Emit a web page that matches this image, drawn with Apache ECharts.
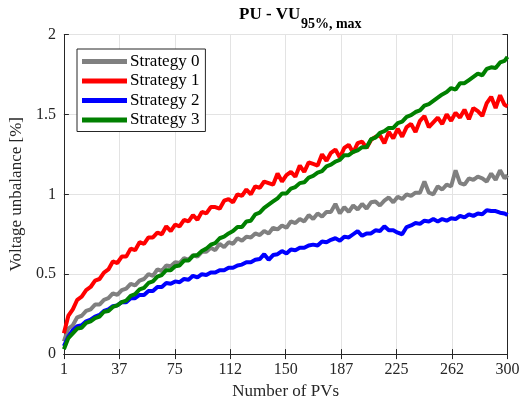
<!DOCTYPE html>
<html>
<head>
<meta charset="utf-8">
<script src="https://cdn.jsdelivr.net/npm/echarts@6/dist/echarts.min.js"></script>
<style>html,body{margin:0;padding:0;background:#fff;}#c{width:527px;height:405px;}</style>
</head>
<body>
<div id="c"></div>
<script>
// Number of PVs (x values)
const pvs = [1,4,7,10,13,16,19,22,25,28,31,34,37,40,43,46,49,52,55,58,61,64,67,70,73,76,79,82,85,88,91,94,97,100,103,106,109,112,115,118,121,124,127,130,133,136,139,142,145,148,151,154,157,160,163,166,169,172,175,178,181,184,187,190,193,196,199,202,205,208,211,214,217,220,223,226,229,232,235,238,241,244,247,250,253,256,259,262,265,268,271,274,277,280,283,286,289,292,295,298,300];

const strategy0 = [0.08,0.16,0.18,0.23,0.24,0.27,0.28,0.31,0.31,0.34,
  0.35,0.38,0.37,0.40,0.41,0.44,0.43,0.46,0.47,0.50,
  0.49,0.53,0.52,0.555,0.55,0.575,0.57,0.60,0.59,0.62,
  0.61,0.64,0.64,0.665,0.65,0.69,0.67,0.70,0.69,0.725,
  0.71,0.735,0.73,0.755,0.745,0.77,0.755,0.79,0.78,0.805,
  0.79,0.83,0.82,0.845,0.83,0.87,0.845,0.88,0.86,0.89,
  0.89,0.94,0.88,0.92,0.89,0.93,0.905,0.94,0.91,0.95,
  0.955,0.93,0.96,0.98,0.95,0.985,0.97,1.00,0.99,1.01,
  1.01,1.08,1.01,1.00,1.05,1.03,1.06,1.05,1.15,1.07,
  1.06,1.10,1.09,1.11,1.10,1.08,1.13,1.09,1.15,1.10,
  1.12];

const strategy1 = [0.13,0.24,0.28,0.34,0.36,0.40,0.42,0.46,0.47,0.51,
  0.53,0.58,0.57,0.61,0.61,0.66,0.65,0.70,0.69,0.73,
  0.73,0.76,0.75,0.80,0.77,0.81,0.80,0.84,0.83,0.87,
  0.84,0.89,0.88,0.92,0.92,0.91,0.96,0.97,0.95,1.00,
  0.99,1.03,1.00,1.05,1.04,1.08,1.07,1.06,1.13,1.08,
  1.12,1.14,1.11,1.18,1.14,1.20,1.19,1.18,1.25,1.21,
  1.26,1.28,1.23,1.29,1.31,1.26,1.32,1.33,1.29,1.34,
  1.36,1.37,1.32,1.39,1.35,1.41,1.36,1.42,1.44,1.39,
  1.46,1.49,1.42,1.45,1.48,1.44,1.50,1.46,1.51,1.48,
  1.53,1.47,1.54,1.52,1.49,1.57,1.61,1.54,1.62,1.56,
  1.55];

const strategy2 = [0.05,0.11,0.15,0.175,0.18,0.205,0.215,0.235,0.245,0.27,
  0.28,0.30,0.305,0.325,0.325,0.35,0.35,0.37,0.37,0.395,
  0.395,0.42,0.42,0.445,0.44,0.455,0.45,0.47,0.465,0.49,
  0.48,0.50,0.495,0.51,0.51,0.525,0.525,0.54,0.54,0.555,
  0.56,0.575,0.575,0.59,0.595,0.625,0.59,0.62,0.625,0.645,
  0.63,0.655,0.65,0.665,0.665,0.68,0.685,0.68,0.705,0.70,
  0.715,0.725,0.71,0.735,0.73,0.75,0.77,0.74,0.755,0.755,
  0.775,0.77,0.80,0.775,0.775,0.76,0.75,0.795,0.805,0.82,
  0.815,0.835,0.83,0.845,0.83,0.845,0.835,0.85,0.845,0.865,
  0.855,0.875,0.865,0.88,0.875,0.90,0.895,0.895,0.885,0.88,
  0.87];

const strategy3 = [0.03,0.10,0.13,0.16,0.165,0.195,0.205,0.225,0.235,0.265,
  0.27,0.295,0.305,0.325,0.335,0.365,0.375,0.405,0.415,0.445,
  0.455,0.485,0.495,0.525,0.525,0.55,0.555,0.585,0.585,0.615,
  0.62,0.645,0.66,0.685,0.695,0.725,0.735,0.755,0.77,0.795,
  0.795,0.83,0.835,0.875,0.885,0.915,0.935,0.955,0.975,1.005,
  1.005,1.035,1.045,1.07,1.075,1.105,1.115,1.135,1.145,1.175,
  1.185,1.205,1.215,1.245,1.245,1.265,1.275,1.295,1.295,1.345,
  1.355,1.385,1.395,1.415,1.415,1.445,1.455,1.485,1.495,1.515,
  1.525,1.555,1.565,1.585,1.605,1.625,1.64,1.665,1.655,1.695,
  1.695,1.715,1.735,1.755,1.745,1.785,1.795,1.79,1.825,1.835,
  1.86];

const seriesNames = ['Strategy 0','Strategy 1','Strategy 2','Strategy 3'];
const seriesColors = ['#808080','#ff0000','#0000ff','#008000'];
const xTickLabels = ['1','37','75','112','150','187','225','262','300'];
const titleMain = 'PU - VU';
const titleSub = '95%, max';

const FONT = '"Liberation Serif", "Times New Roman", serif';
const allData = [strategy0, strategy1, strategy2, strategy3];
const axisColor = '#262626';
const gridColor = '#e3e3e3';

// measure main title width to place the subscript right after it
const mctx = document.createElement('canvas').getContext('2d');
mctx.font = 'bold 17px ' + FONT;
const mainW = mctx.measureText(titleMain).width;
const titleLeft = 239;

const chart = echarts.init(document.getElementById('c'), null, {renderer:'canvas'});
chart.setOption({
  animation: false,
  backgroundColor: '#fff',
  grid: {left: 62, right: 19.5, top: 34.5, bottom: 48.5, containLabel: false},
  graphic: [
    {type:'text', left: titleLeft, top: 6, style:{text: titleMain, font:'bold 17px ' + FONT, fill:'#000'}},
    {type:'text', left: titleLeft + mainW + 0.5, top: 17, style:{text: titleSub, font:'bold 14px ' + FONT, fill:'#000'}}
  ],
  legend: {
    orient: 'vertical', left: 77, top: 49,
    padding: [4, 6, 3, 5], itemGap: 2.5,
    itemWidth: 45, itemHeight: 5, icon: 'rect',
    borderColor: axisColor, borderWidth: 1, borderRadius: 0,
    backgroundColor: '#fff',
    textStyle: {fontFamily: FONT, fontSize: 17, color: '#000', lineHeight: 17, padding: [0,0,0,-2]},
    data: seriesNames
  },
  xAxis: [{
    type: 'value', min: 1, max: 300, interval: 37.375,
    name: 'Number of PVs', nameLocation: 'middle', nameGap: 26,
    nameTextStyle: {fontFamily: FONT, fontSize: 17, color: '#262626'},
    axisLine: {show: true, lineStyle: {color: axisColor, width: 1}},
    axisTick: {show: true, inside: true, length: 5, lineStyle: {color: axisColor}},
    axisLabel: {fontFamily: FONT, fontSize: 16, color: '#262626', margin: 8,
      formatter: v => xTickLabels[Math.round((v - 1) / 37.375)]},
    splitLine: {show: true, lineStyle: {color: gridColor, width: 1}}
  }, {
    type: 'value', min: 1, max: 300, interval: 37.375, position: 'top',
    axisLine: {show: true, lineStyle: {color: axisColor, width: 1}},
    axisTick: {show: true, inside: true, length: 5, lineStyle: {color: axisColor}},
    axisLabel: {show: false}, splitLine: {show: false}
  }],
  yAxis: [{
    type: 'value', min: 0, max: 2, interval: 0.5,
    name: 'Voltage unbalance [%]', nameLocation: 'middle', nameGap: 34,
    nameTextStyle: {fontFamily: FONT, fontSize: 17, color: '#262626'},
    axisLine: {show: true, lineStyle: {color: axisColor, width: 1}},
    axisTick: {show: true, inside: true, length: 5, lineStyle: {color: axisColor}},
    axisLabel: {fontFamily: FONT, fontSize: 16, color: '#262626', margin: 8},
    splitLine: {show: true, lineStyle: {color: gridColor, width: 1}}
  }, {
    type: 'value', min: 0, max: 2, interval: 0.5, position: 'right',
    axisLine: {show: true, lineStyle: {color: axisColor, width: 1}},
    axisTick: {show: true, inside: true, length: 5, lineStyle: {color: axisColor}},
    axisLabel: {show: false}, splitLine: {show: false}
  }],
  series: seriesNames.map((name, k) => ({
    name: name, type: 'line', xAxisIndex: 0, yAxisIndex: 0,
    showSymbol: false, symbol: 'none',
    color: seriesColors[k],
    lineStyle: {color: seriesColors[k], width: 4},
    data: pvs.map((n, i) => [n, allData[k][i]])
  }))
});
</script>
</body>
</html>
